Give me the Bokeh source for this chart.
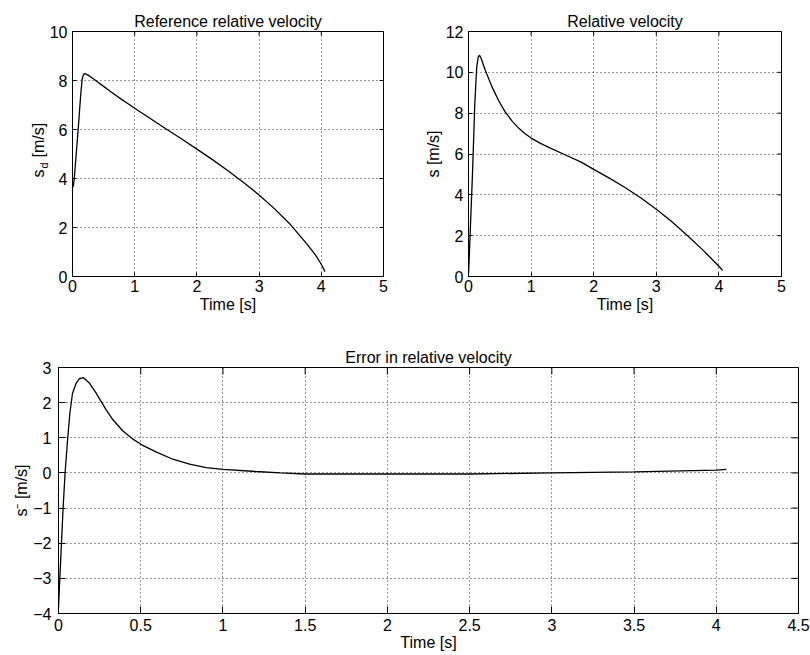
import math
from bokeh.plotting import figure
from bokeh.models import Range1d, FixedTicker, Label
from bokeh.layouts import column, row
from bokeh.embed import file_html
from bokeh.resources import INLINE

FONT = "Liberation Sans"

# ---------------- data ----------------
t_ref = [0.0, 0.005, 0.015, 0.03, 0.06, 0.10, 0.13, 0.155, 0.175, 0.2, 0.25, 0.3,
         0.4, 0.5, 0.6, 0.7, 0.8, 0.9, 1.0, 1.25, 1.5, 1.75, 2.0, 2.25, 2.5, 2.75,
         3.0, 3.25, 3.5, 3.75, 3.9, 4.0, 4.06]
s_ref = [3.75, 3.65, 3.7, 4.05, 5.0, 6.3, 7.35, 8.05, 8.24, 8.28, 8.22, 8.13,
         7.95, 7.76, 7.57, 7.39, 7.21, 7.04, 6.87, 6.45, 6.03, 5.62, 5.2, 4.77, 4.32,
         3.84, 3.33, 2.76, 2.13, 1.38, 0.9, 0.5, 0.2]

t_rel = [0.0, 0.01, 0.03, 0.064, 0.1, 0.13, 0.155, 0.176, 0.2, 0.267, 0.374, 0.48,
         0.588, 0.7, 0.8, 0.9, 1.0, 1.15, 1.3, 1.55, 1.8, 2.0, 2.25, 2.5, 2.75, 3.0,
         3.25, 3.5, 3.75, 4.0, 4.06]
s_rel = [0.1, 0.8, 2.4, 5.05, 8.4, 10.2, 10.75, 10.84, 10.7, 10.1, 9.3, 8.62,
         8.05, 7.6, 7.27, 7.0, 6.78, 6.52, 6.3, 5.95, 5.6, 5.25, 4.82, 4.36, 3.86,
         3.29, 2.68, 2.0, 1.28, 0.5, 0.3]

t_err = [0.0, 0.008, 0.018, 0.028, 0.04, 0.055, 0.069, 0.085, 0.106, 0.126, 0.152,
         0.187, 0.228, 0.26, 0.289, 0.33, 0.39, 0.45, 0.506, 0.593, 0.695, 0.797,
         0.898, 1.0, 1.2, 1.35, 1.5, 2.0, 2.5, 3.0, 3.5, 4.0, 4.06]
e_rel = [-3.85, -3.0, -2.0, -1.0, 0.0, 0.93, 1.69, 2.26, 2.54, 2.68, 2.71,
         2.56, 2.28, 2.03, 1.8, 1.52, 1.2, 0.97, 0.8, 0.6, 0.39, 0.25,
         0.15, 0.1, 0.04, 0.0, -0.03, -0.03, -0.03, 0.0, 0.03, 0.08, 0.1]

x_ticks_top = [0, 1, 2, 3, 4, 5]
x_labels_top = ["0", "1", "2", "3", "4", "5"]
y_ticks_ref = [0, 2, 4, 6, 8, 10]
y_labels_ref = ["0", "2", "4", "6", "8", "10"]
y_ticks_rel = [0, 2, 4, 6, 8, 10, 12]
y_labels_rel = ["0", "2", "4", "6", "8", "10", "12"]
x_ticks_err = [0, 0.5, 1, 1.5, 2, 2.5, 3, 3.5, 4, 4.5]
x_labels_err = ["0", "0.5", "1", "1.5", "2", "2.5", "3", "3.5", "4", "4.5"]
y_ticks_err = [-4, -3, -2, -1, 0, 1, 2, 3]
y_labels_err = ["\u22124", "\u22123", "\u22122", "\u22121", "0", "1", "2", "3"]

titles = ["Reference relative velocity", "Relative velocity", "Error in relative velocity"]
x_title = "Time [s]"


def make_fig(width, height, xr, yr, xt, xl, yt, yl, tick_len, borders, title,
             ylabel, tick_standoff, label_standoff):
    bl, br, bt, bb = borders
    p = figure(width=width, height=height, x_range=Range1d(*xr), y_range=Range1d(*yr),
               output_backend="svg", toolbar_location=None, tools="",
               min_border_left=bl, min_border_right=br, min_border_top=bt,
               min_border_bottom=bb, background_fill_color="white",
               border_fill_color="white")
    p.title.text = title
    p.title.align = "center"
    p.title.text_font = FONT
    p.title.text_font_size = "16px"
    p.title.text_font_style = "normal"
    p.title.text_color = "black"
    p.title.standoff = 3
    p.outline_line_color = "black"
    p.outline_line_width = 1

    xa = p.xaxis[0]
    ya = p.yaxis[0]
    xa.ticker = FixedTicker(ticks=xt)
    ya.ticker = FixedTicker(ticks=yt)
    xa.major_label_overrides = dict(zip(xt, xl))
    ya.major_label_overrides = dict(zip(yt, yl))
    xa.axis_label = x_title
    ya.axis_label = ylabel
    for a in (xa, ya):
        a.major_tick_in = tick_len
        a.major_tick_out = 0
        a.minor_tick_line_color = None
        a.axis_line_color = "black"
        a.major_tick_line_color = "black"
        a.major_label_text_font = FONT
        a.major_label_text_font_size = "16px"
        a.major_label_text_color = "black"
        a.axis_label_text_font = FONT
        a.axis_label_text_font_size = "16px"
        a.axis_label_text_font_style = "normal"
        a.axis_label_text_color = "black"
        a.major_label_standoff = tick_standoff
        a.axis_label_standoff = label_standoff
    ya.major_label_standoff = tick_standoff + 2

    # inward ticks on the top and right frame edges (MATLAB box style)
    fw = width - bl - br
    fh = height - bt - bb
    dx = tick_len * (xr[1] - xr[0]) / fw
    dy = tick_len * (yr[1] - yr[0]) / fh
    p.segment(x0=xt, y0=[yr[1]] * len(xt), x1=xt, y1=[yr[1] - dy] * len(xt),
              line_color="black", line_width=1)
    p.segment(x0=[xr[1]] * len(yt), y0=yt, x1=[xr[1] - dx] * len(yt), y1=yt,
              line_color="black", line_width=1)

    p.xgrid.ticker = FixedTicker(ticks=xt)
    p.ygrid.ticker = FixedTicker(ticks=yt)
    for g in (p.xgrid, p.ygrid):
        g.grid_line_color = "#333333"
        g.grid_line_dash = "1 3"
        g.grid_line_width = 1
    return p


p1 = make_fig(400, 330, (0, 5), (0, 10), x_ticks_top, x_labels_top, y_ticks_ref,
              y_labels_ref, 4, (72, 17, 31, 54), titles[0], None, 3, 1)
p1.line(t_ref, s_ref, line_color="black", line_width=1.3)

# y label "s_d [m/s]" built from text pieces (subscript d), placed in the left panel
lab_kw = dict(angle=math.pi / 2, text_align="left", text_baseline="alphabetic",
              text_font=FONT, text_color="black")
p1.add_layout(Label(x=-0.539, y=4.04, text="s", text_font_size="16px", **lab_kw), "left")
p1.add_layout(Label(x=-0.458, y=4.41, text="d", text_font_size="11px", **lab_kw), "left")
p1.add_layout(Label(x=-0.539, y=4.86, text="[m/s]", text_font_size="16px", **lab_kw), "left")

p2 = make_fig(410, 330, (0, 5), (0, 12), x_ticks_top, x_labels_top, y_ticks_rel,
              y_labels_rel, 4, (68, 29, 31, 54), titles[1], "s [m/s]", 3, 1)
p2.line(t_rel, s_rel, line_color="black", line_width=1.3)

p3 = make_fig(810, 325, (0, 4.5), (-4, 3), x_ticks_err, x_labels_err, y_ticks_err,
              y_labels_err, 7, (58, 12, 37, 42), titles[2], "s\u207b [m/s]", 5, 0)
p3.line(t_err, e_rel, line_color="black", line_width=1.3)

layout = column(row(p1, p2), p3)

with open("out.html", "w") as f:
    f.write(file_html(layout, INLINE))
